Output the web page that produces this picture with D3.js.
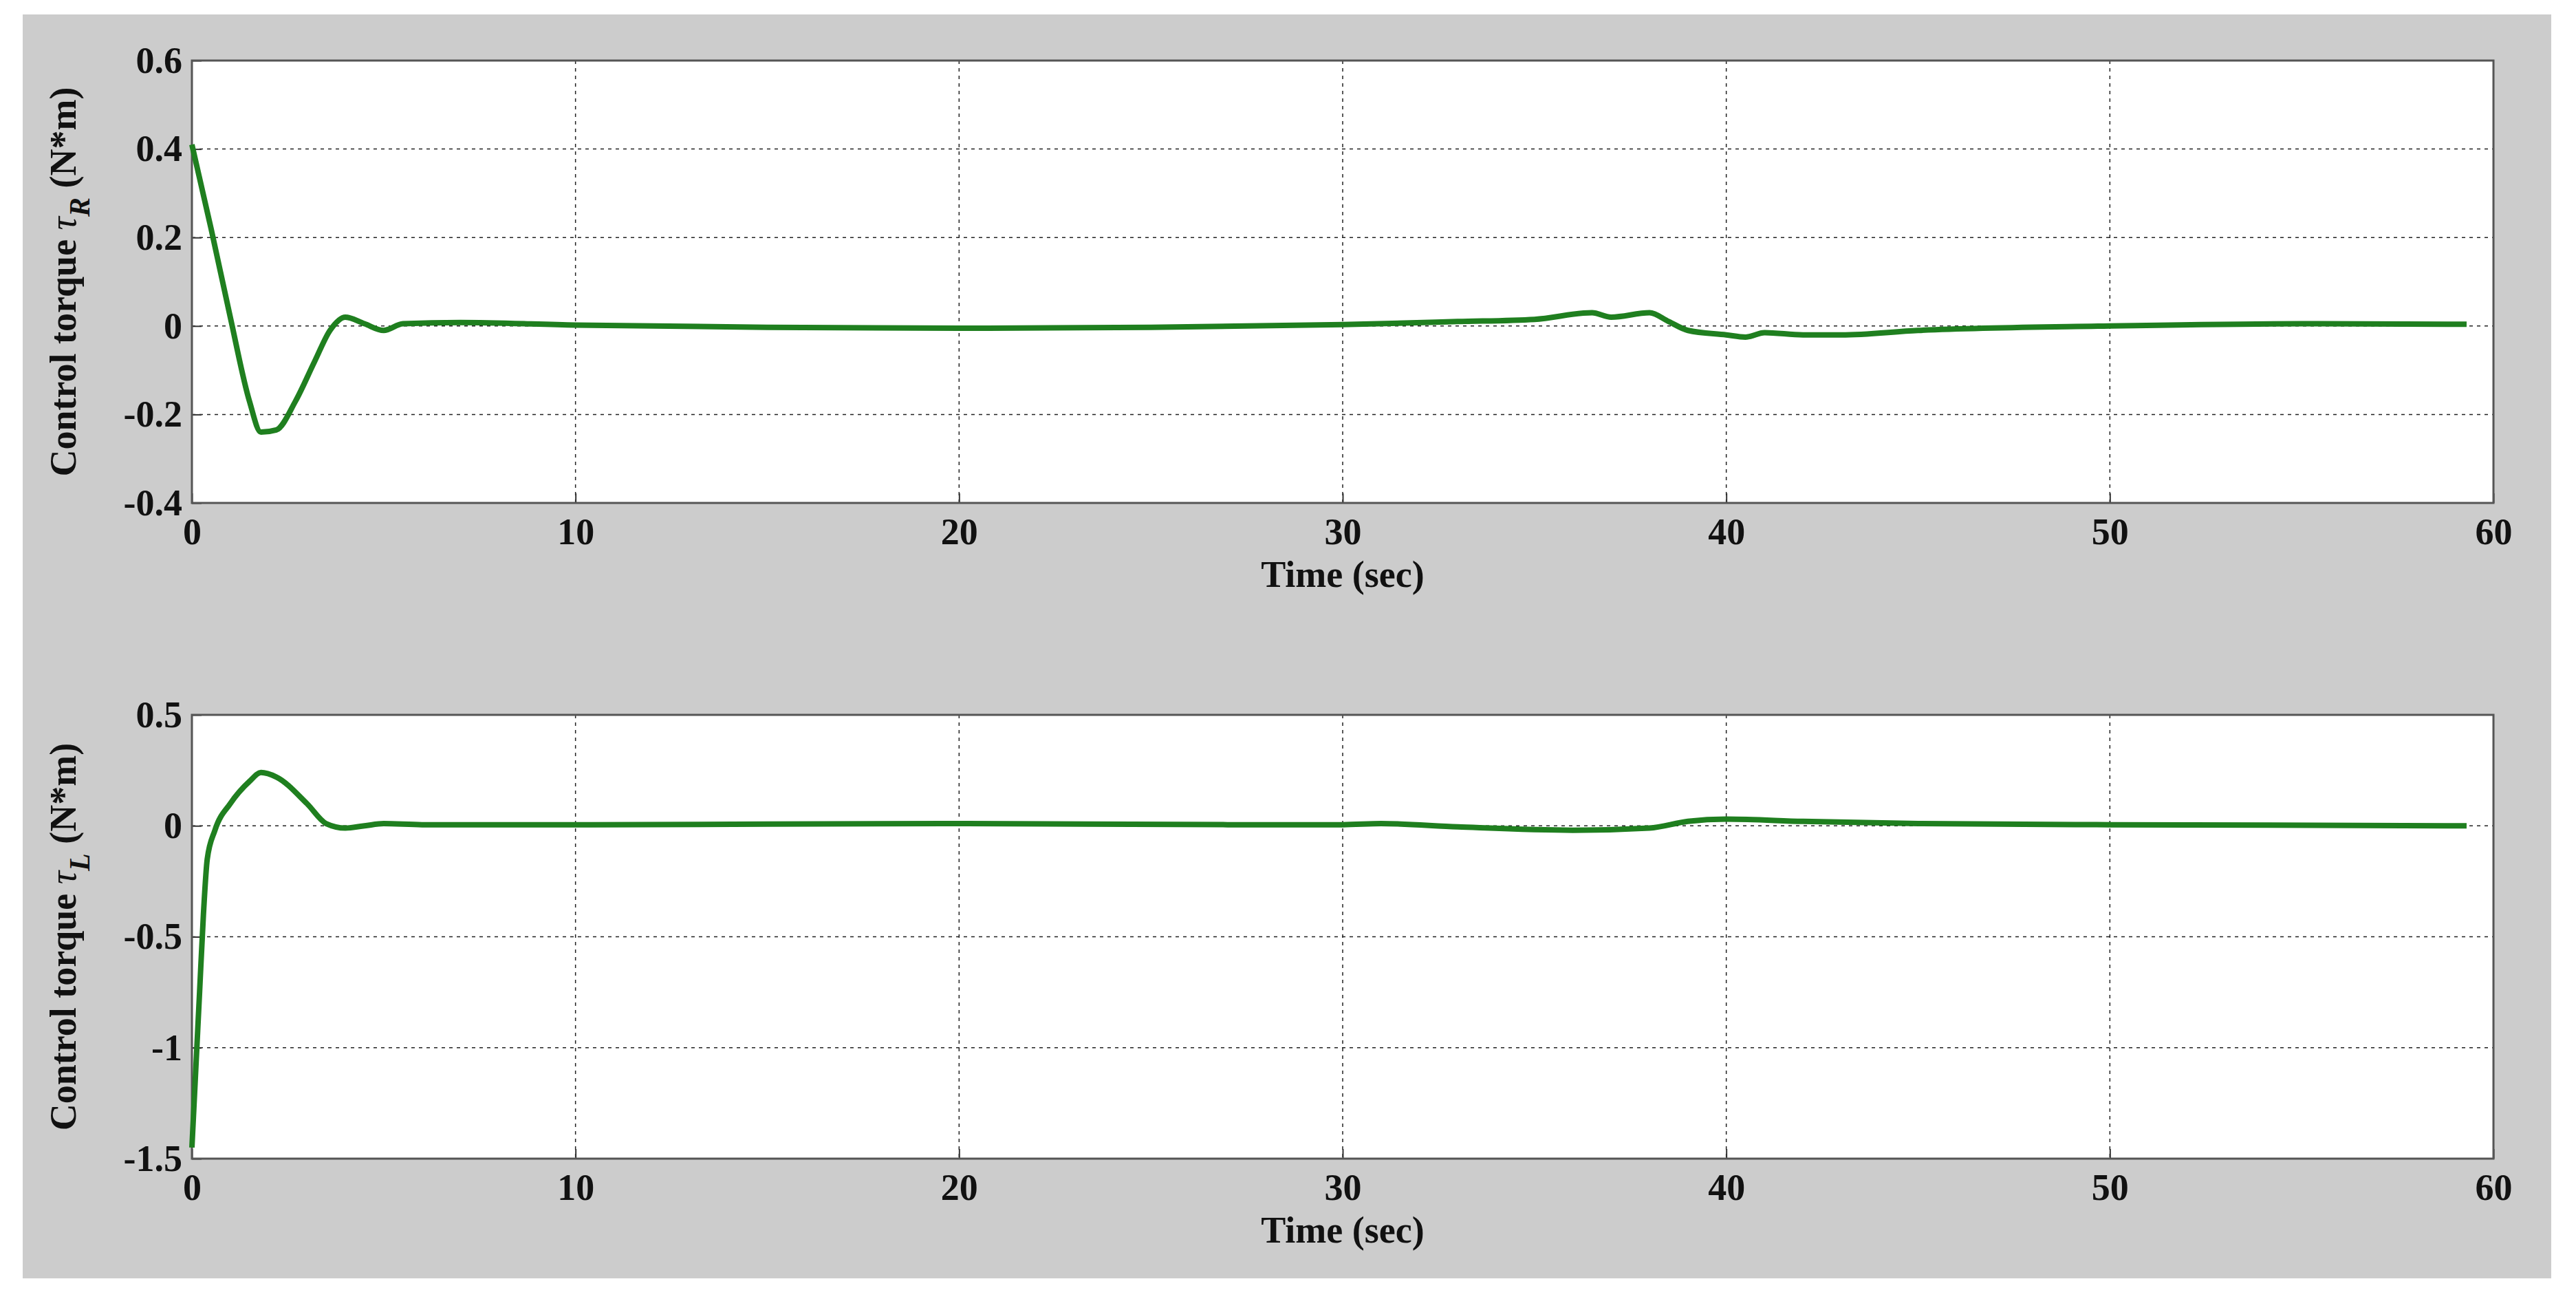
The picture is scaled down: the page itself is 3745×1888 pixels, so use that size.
<!DOCTYPE html>
<html>
<head>
<meta charset="utf-8">
<script src="https://cdn.jsdelivr.net/npm/d3@7"></script>
<style>
  body { margin: 0; background: #fff; }
  text { font-family: "Liberation Serif", "DejaVu Serif", serif; font-weight: bold; fill: #111; }
</style>
</head>
<body>
<svg width="3745" height="1888"></svg>
<script>
// data
let timeR = [0, 0.5, 1, 1.5, 1.8, 2.2, 2.7, 3.2, 3.6, 4, 4.5, 5, 5.5, 7, 10, 15, 20, 25, 30, 33, 35, 36.5, 37, 38, 38.5, 39, 40, 40.5, 41, 42, 43, 45, 50, 55, 59.3];
let tauR = [0.41, 0.22, 0.02, -0.17, -0.24, -0.235, -0.17, -0.08, -0.01, 0.02, 0.005, -0.01, 0.005, 0.008, 0.002, -0.003, -0.005, -0.003, 0.003, 0.01, 0.015, 0.03, 0.02, 0.03, 0.01, -0.01, -0.02, -0.025, -0.015, -0.02, -0.02, -0.01, 0, 0.005, 0.004];
let timeL = [0, 0.1, 0.2, 0.3, 0.4, 0.6, 1, 1.5, 1.8, 2.2, 3, 3.5, 4, 4.5, 5, 6, 10, 20, 27, 30, 31, 33, 36, 38, 39, 40, 42, 45, 50, 59.3];
let tauL = [-1.45, -1.1, -0.75, -0.4, -0.15, -0.02, 0.1, 0.2, 0.24, 0.22, 0.1, 0.01, -0.01, 0, 0.01, 0.005, 0.005, 0.01, 0.005, 0.005, 0.01, -0.005, -0.02, -0.01, 0.02, 0.03, 0.02, 0.01, 0.005, 0];
let xTicks = [0, 10, 20, 30, 40, 50, 60];
let yTicksR = [-0.4, -0.2, 0, 0.2, 0.4, 0.6];
let yTicksL = [-1.5, -1, -0.5, 0, 0.5];

let svg = d3.select('svg');
svg.append('rect').attr('x', 33).attr('y', 21).attr('width', 3676).attr('height', 1837).attr('fill', '#cccccc');

let left = 279, right = 3625;

function drawPanel(top, bottom, t, v, yTicks, sub) {
  let x = d3.scaleLinear().domain([0, 60]).range([left, right]);
  let y = d3.scaleLinear().domain([yTicks[0], yTicks[yTicks.length - 1]]).range([bottom, top]);
  let g = svg.append('g');
  g.append('rect').attr('x', left).attr('y', top).attr('width', right - left).attr('height', bottom - top)
    .attr('fill', '#fff');
  // grid
  g.selectAll('.gx').data(xTicks.slice(1, -1)).enter().append('line')
    .attr('x1', d => x(d)).attr('x2', d => x(d)).attr('y1', top).attr('y2', bottom)
    .attr('stroke', '#222').attr('stroke-width', 1.5).attr('stroke-dasharray', '5,6');
  g.selectAll('.gy').data(yTicks.slice(1, -1)).enter().append('line')
    .attr('x1', left).attr('x2', right).attr('y1', d => y(d)).attr('y2', d => y(d))
    .attr('stroke', '#222').attr('stroke-width', 1.5).attr('stroke-dasharray', '5,6');
  // axes
  let xa = g.append('g').attr('transform', `translate(0,${bottom})`)
    .call(d3.axisBottom(x).tickValues(xTicks).tickSize(-14).tickPadding(14).tickFormat(d => String(d)));
  let ya = g.append('g').attr('transform', `translate(${left},0)`)
    .call(d3.axisLeft(y).tickValues(yTicks).tickSize(-14).tickPadding(14).tickFormat(d => String(d)));
  [xa, ya].forEach(a => {
    a.selectAll('text').style('font-size', '54px');
    a.selectAll('line').attr('stroke', '#333').attr('stroke-width', 2);
    a.select('.domain').remove();
  });
  xa.selectAll('text').attr('dy', '0.85em');
  g.append('rect').attr('x', left).attr('y', top).attr('width', right - left).attr('height', bottom - top)
    .attr('fill', 'none').attr('stroke', '#555').attr('stroke-width', 3);
  // line
  g.append('path').datum(t.map((d, i) => [d, v[i]]))
    .attr('d', d3.line().x(d => x(d[0])).y(d => y(d[1])).curve(d3.curveMonotoneX))
    .attr('fill', 'none').attr('stroke', '#1f7f1f').attr('stroke-width', 8);
  g.append('text').attr('x', (left + right) / 2).attr('y', bottom + 122).attr('text-anchor', 'middle')
    .style('font-size', '54px').text('Time (sec)');
  let lab = g.append('text').attr('transform', `translate(110,${(top + bottom) / 2}) rotate(-90)`)
    .attr('text-anchor', 'middle').style('font-size', '54px');
  lab.append('tspan').text('Control torque  ');
  lab.append('tspan').style('font-style', 'italic').style('font-weight', 'normal').text('τ');
  lab.append('tspan').style('font-style', 'italic').style('font-size', '42px').attr('dy', 20).text(sub);
  lab.append('tspan').attr('dy', -20).text('  (N*m)');
}

drawPanel(88, 731, timeR, tauR, yTicksR, 'R');
drawPanel(1039, 1684, timeL, tauL, yTicksL, 'L');
</script>
</body>
</html>
